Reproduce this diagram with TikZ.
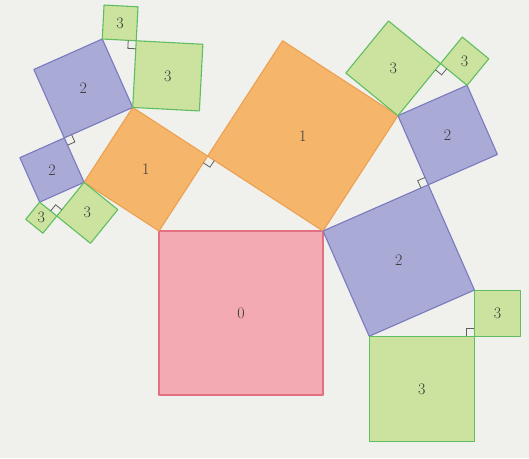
\documentclass[tikz,border=0pt]{standalone}
\usetikzlibrary{calc}
\definecolor{bgcol}{RGB}{240,240,237}
\definecolor{orfill}{RGB}{245,182,108}
\definecolor{ordraw}{RGB}{236,160,80}
\definecolor{blfill}{RGB}{170,170,214}
\definecolor{bldraw}{RGB}{122,122,192}
\definecolor{grfill}{RGB}{204,227,160}
\definecolor{grdraw}{RGB}{96,190,96}
\definecolor{pkfill}{RGB}{243,170,178}
\definecolor{pkdraw}{RGB}{226,112,128}
\definecolor{markgray}{RGB}{95,95,95}
\definecolor{labelgray}{RGB}{55,55,55}
\newcommand{\sqr}[4]{%
  \coordinate (#4c) at ($(#3)!1!-90:(#2)$);
  \coordinate (#4d) at ($(#2)!1!90:(#3)$);
  \draw[#1] (#2) -- (#3) -- (#4c) -- (#4d) -- cycle;
  \coordinate (#4m) at ($(#2)!0.5!(#4c)$);
}
\newcommand{\rtmark}[3]{%
  \coordinate (rmA) at ($(#1)!8pt!(#2)$);
  \coordinate (rmB) at ($(#1)!8pt!(#3)$);
  \draw[rt] (rmA) -- ($(rmA)+(rmB)-(#1)$) -- (rmB);
}
\begin{document}
\begin{tikzpicture}[x=1pt,y=1pt,
  sq/.style={line width=1.1pt, line join=round},
  orsq/.style={sq, fill=orfill, draw=ordraw},
  blsq/.style={sq, fill=blfill, draw=bldraw},
  grsq/.style={sq, fill=grfill, draw=grdraw},
  pksq/.style={sq, fill=pkfill, draw=pkdraw},
  rt/.style={draw=markgray, line width=0.8pt},
  lbl/.style={font=\fontsize{16}{18}\selectfont, text=labelgray}]
\fill[bgcol] (0,0) rectangle (529,458);
\useasboundingbox (0,0) rectangle (529,458);
% base
\coordinate (A) at (159,227);
\coordinate (B) at (323,227);
\sqr{pksq}{B}{A}{s0}
\coordinate (C) at ($(A)!{cos(57)}!57:(B)$);
\sqr{orsq}{A}{C}{o1}
\sqr{orsq}{C}{B}{o2}
% left branch
\coordinate (D) at ($(o1d)!{cos(57)}!57:(o1c)$);
\sqr{blsq}{o1d}{D}{b1}
\sqr{blsq}{D}{o1c}{b2}
\coordinate (F) at ($(b2c)!{cos(63)}!63:(o1c)$);
\sqr{grsq}{b2c}{F}{g1}
\sqr{grsq}{F}{o1c}{g2}
\coordinate (H) at ($(b1d)!{cos(63)}!-63:(o1d)$);
\sqr{grsq}{H}{b1d}{g3}
\sqr{grsq}{o1d}{H}{g4}
% right branch
\coordinate (J) at ($(B)!{cos(33.3)}!-33.3:(o2c)$);
\sqr{blsq}{J}{B}{b3}
\sqr{blsq}{o2c}{J}{b4}
\coordinate (L) at ($(o2c)!{cos(27)}!27:(b4d)$);
\sqr{grsq}{o2c}{L}{g5}
\sqr{grsq}{L}{b4d}{g6}
\coordinate (N) at (b3d |- b3c);
\sqr{grsq}{N}{b3c}{g7}
\sqr{grsq}{b3d}{N}{g8}
% right-angle marks
\rtmark{C}{A}{B}
\rtmark{D}{o1d}{o1c}
\rtmark{F}{b2c}{o1c}
\rtmark{H}{b1d}{o1d}
\rtmark{J}{B}{o2c}
\rtmark{L}{o2c}{b4d}
\rtmark{N}{b3c}{b3d}
% labels
\node[lbl] (l0) at (s0m) {0};
\node[lbl] (l1a) at (o1m) {1};
\node[lbl] (l1b) at (o2m) {1};
\node[lbl] (l2a) at (b1m) {2};
\node[lbl] (l2b) at (b2m) {2};
\node[lbl] (l2c) at (b3m) {2};
\node[lbl] (l2d) at (b4m) {2};
\node[lbl] (l3a) at (g1m) {3};
\node[lbl] (l3b) at (g2m) {3};
\node[lbl] (l3c) at (g3m) {3};
\node[lbl] (l3d) at (g4m) {3};
\node[lbl] (l3e) at (g5m) {3};
\node[lbl] (l3f) at (g6m) {3};
\node[lbl] (l3g) at (g7m) {3};
\node[lbl] (l3h) at (g8m) {3};
\end{tikzpicture}
\end{document}
